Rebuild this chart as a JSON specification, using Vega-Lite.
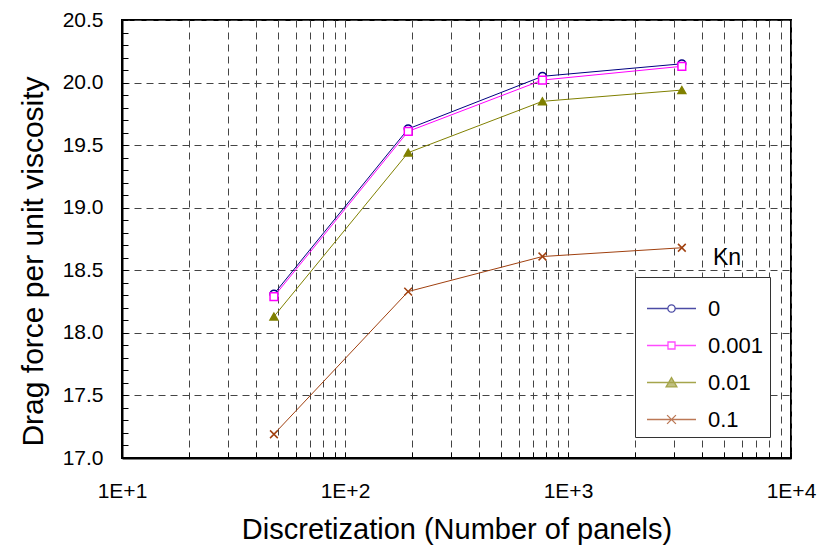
{
  "$schema": "https://vega.github.io/schema/vega-lite/v6.json",
  "width": 669,
  "height": 438,
  "autosize": "none",
  "padding": {"left": 122, "top": 20, "right": 31, "bottom": 92},
  "background": "white",
  "config": {
    "font": "Liberation Sans",
    "view": {"stroke": "black", "strokeWidth": 2},
    "axis": {
      "domainColor": "black",
      "domainWidth": 2,
      "tickColor": "black",
      "tickWidth": 1,
      "gridColor": "#444444",
      "gridDash": [7, 5],
      "gridWidth": 1,
      "labelColor": "black",
      "titleColor": "black",
      "labelFont": "Liberation Sans",
      "titleFont": "Liberation Sans",
      "titleFontWeight": "normal"
    }
  },
  "data": {
    "values": [
      {"Kn": "0", "panels": 48, "drag": 18.31},
      {"Kn": "0", "panels": 192, "drag": 19.63},
      {"Kn": "0", "panels": 768, "drag": 20.05},
      {"Kn": "0", "panels": 3240, "drag": 20.15},
      {"Kn": "0.001", "panels": 48, "drag": 18.29},
      {"Kn": "0.001", "panels": 192, "drag": 19.61},
      {"Kn": "0.001", "panels": 768, "drag": 20.02},
      {"Kn": "0.001", "panels": 3240, "drag": 20.13},
      {"Kn": "0.01", "panels": 48, "drag": 18.13},
      {"Kn": "0.01", "panels": 192, "drag": 19.44},
      {"Kn": "0.01", "panels": 768, "drag": 19.85},
      {"Kn": "0.01", "panels": 3240, "drag": 19.94},
      {"Kn": "0.1", "panels": 48, "drag": 17.19},
      {"Kn": "0.1", "panels": 192, "drag": 18.33},
      {"Kn": "0.1", "panels": 768, "drag": 18.61},
      {"Kn": "0.1", "panels": 3240, "drag": 18.68}
    ]
  },
  "encoding": {
    "x": {
      "field": "panels",
      "type": "quantitative",
      "scale": {"type": "log", "domain": [10, 10000], "nice": false},
      "axis": {
        "title": "Discretization (Number of panels)",
        "titleFontSize": 29,
        "titlePadding": 14,
        "values": [10, 20, 30, 40, 50, 60, 70, 80, 90, 100, 200, 300, 400, 500, 600, 700, 800, 900, 1000, 2000, 3000, 4000, 5000, 6000, 7000, 8000, 9000, 10000],
        "labelExpr": "indexof([10, 100, 1000, 10000], datum.value) >= 0 ? '1E+' + format(round(log(datum.value) / LN10), 'd') : ''",
        "labelFontSize": 21,
        "labelPadding": 28,
        "labelOverlap": false,
        "labelFlush": false,
        "tickSize": -6,
        "grid": true
      }
    },
    "y": {
      "field": "drag",
      "type": "quantitative",
      "scale": {"domain": [17, 20.5], "nice": false, "zero": false},
      "axis": {
        "title": "Drag force per unit viscosity",
        "titleFontSize": 30,
        "titlePadding": 14,
        "titleY": 241,
        "values": [17.0, 17.1, 17.2, 17.3, 17.4, 17.5, 17.6, 17.7, 17.8, 17.9, 18.0, 18.1, 18.2, 18.3, 18.4, 18.5, 18.6, 18.7, 18.8, 18.9, 19.0, 19.1, 19.2, 19.3, 19.4, 19.5, 19.6, 19.7, 19.8, 19.9, 20.0, 20.1, 20.2, 20.3, 20.4, 20.5],
        "labelExpr": "abs(datum.value * 2 - round(datum.value * 2)) < 0.01 ? format(datum.value, '.1f') : ''",
        "labelFontSize": 21,
        "labelPadding": 25,
        "labelOverlap": false,
        "labelFlush": false,
        "tickSize": -6,
        "grid": true,
        "gridOpacity": {"condition": {"test": "abs(datum.value * 2 - round(datum.value * 2)) < 0.01", "value": 1}, "value": 0}
      }
    }
  },
  "resolve": {"scale": {"shape": "independent", "stroke": "independent", "fill": "independent", "size": "independent"}},
  "layer": [
    {
      "mark": {"type": "line", "strokeWidth": 1},
      "encoding": {
        "color": {
          "field": "Kn",
          "type": "nominal",
          "scale": {"domain": ["0", "0.001", "0.01", "0.1"], "range": ["#000080", "#FF00FF", "#808000", "#A0400F"]},
          "legend": null
        }
      }
    },
    {
      "mark": {"type": "point", "strokeWidth": 1.5, "opacity": 1},
      "encoding": {
        "stroke": {
          "field": "Kn",
          "type": "nominal",
          "scale": {"domain": ["0", "0.001", "0.01", "0.1"], "range": ["#000080", "#FF00FF", "#808000", "#A0400F"]},
          "legend": null
        },
        "fill": {
          "field": "Kn",
          "type": "nominal",
          "scale": {"domain": ["0", "0.001", "0.01", "0.1"], "range": ["white", "white", "#808000", "white"]},
          "legend": null
        },
        "shape": {
          "field": "Kn",
          "type": "nominal",
          "scale": {"domain": ["0", "0.001", "0.01", "0.1"], "range": ["circle", "square", "triangle-up", "M-1,-1L1,1M-1,1L1,-1"]},
          "legend": null
        },
        "size": {
          "field": "Kn",
          "type": "nominal",
          "scale": {"domain": ["0", "0.001", "0.01", "0.1"], "range": [60, 60, 110, 100]},
          "legend": null
        }
      }
    },
    {
      "transform": [{"filter": "false"}],
      "mark": {"type": "point", "strokeWidth": 1.3, "size": 2401},
      "encoding": {
        "stroke": {
          "field": "Kn",
          "type": "nominal",
          "scale": {"domain": ["0", "0.001", "0.01", "0.1"], "range": ["#000080", "#FF00FF", "#808000", "#A0400F"]},
          "legend": {
            "title": null,
            "orient": "bottom-right",
            "offset": 21,
            "padding": 6,
            "strokeColor": "#333333",
            "fillColor": "white",
            "symbolSize": 2401,
            "symbolOffset": 5,
            "symbolStrokeWidth": 1.3,
            "labelFontSize": 22,
            "labelOffset": 11,
            "labelColor": "black",
            "rowPadding": -1
          }
        },
        "fill": {
          "field": "Kn",
          "type": "nominal",
          "scale": {"domain": ["0", "0.001", "0.01", "0.1"], "range": ["white", "white", "#808000", "white"]},
          "legend": {"title": null}
        },
        "shape": {
          "field": "Kn",
          "type": "nominal",
          "scale": {"domain": ["0", "0.001", "0.01", "0.1"], "range": ["M-1,0H-0.15M0.15,0H1M0.15,0A0.15,0.15 0 1 1 -0.15,0A0.15,0.15 0 1 1 0.15,0Z", "M-1,0H-0.143M0.143,0H1M-0.143,-0.143H0.143V0.143H-0.143Z", "M-1,0H1M0,-0.2L0.22,0.18H-0.22Z", "M-1,0H1M-0.18,-0.18L0.18,0.18M-0.18,0.18L0.18,-0.18"]},
          "legend": {"title": null}
        }
      }
    },
    {
      "transform": [{"filter": "datum.Kn === '0.1' && datum.panels === 3240"}],
      "mark": {"type": "text", "text": "Kn", "fontSize": 23, "align": "center", "baseline": "middle", "color": "black"},
      "encoding": {
        "x": {"datum": 5165, "type": "quantitative"},
        "y": {"datum": 18.6, "type": "quantitative"}
      }
    }
  ]
}
